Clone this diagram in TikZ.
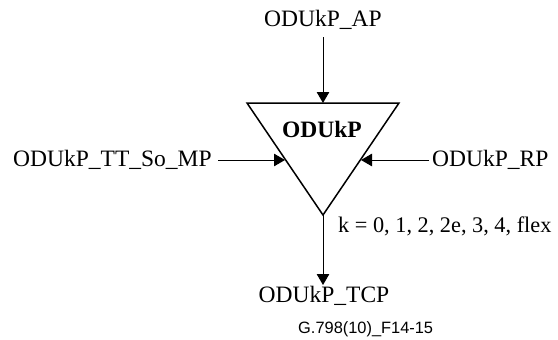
\documentclass[tikz,border=0pt]{standalone}
\usepackage{fontspec}
\setmainfont{Liberation Serif}
\newfontfamily\figsans{Liberation Sans}
\usetikzlibrary{arrows.meta}
\begin{document}
\begin{tikzpicture}[x=1pt,y=-1pt,
  lbl/.style={inner sep=0pt,font=\fontsize{23.5}{27}\selectfont},
  arr/.style={line width=1pt,-{Triangle[length=11pt,width=12.5pt]}},
  tri/.style={line width=1.5pt,line join=miter}]
\useasboundingbox (0,0) rectangle (558,340);
% triangle
\coordinate (tl) at (247,103);
\coordinate (tr) at (399,103);
\coordinate (apex) at (323,215);
\draw[tri] (tl) -- (tr) -- (apex) -- cycle;
\node[lbl,anchor=base,font=\fontsize{23.5}{27}\selectfont\bfseries] (odu) at (322,137) {ODUkP};
% labels
\node[lbl,anchor=base] (ap) at (323,26.5) {ODUkP\_AP};
\node[lbl,anchor=base west] (tt) at (13,166.7) {ODUkP\_TT\_So\_MP};
\node[lbl,anchor=base west] (rp) at (432,166.7) {ODUkP\_RP};
\node[lbl,anchor=base west,font=\fontsize{22.3}{26}\selectfont] (k) at (338,232) {k = 0, 1, 2, 2e, 3, 4, flex};
\node[lbl,anchor=base] (tcp) at (324,302) {ODUkP\_TCP};
\node[inner sep=0pt,anchor=base west,font=\figsans\fontsize{16.4}{19}\selectfont] (fig) at (298,333) {G.798(10)\_F14-15};
% connector endpoints
\coordinate (apstart) at (323,37);
\coordinate (apend) at (323,103);
\coordinate (ttstart) at (218,160);
\coordinate (ttend) at (285,160);
\coordinate (rpstart) at (429,160);
\coordinate (rpend) at (361,160);
\coordinate (tcpend) at (323,285);
\draw[arr] (apstart) -- (apend);
\draw[arr] (ttstart) -- (ttend);
\draw[arr] (rpstart) -- (rpend);
\draw[arr] (apex) -- (tcpend);
\end{tikzpicture}
\end{document}
